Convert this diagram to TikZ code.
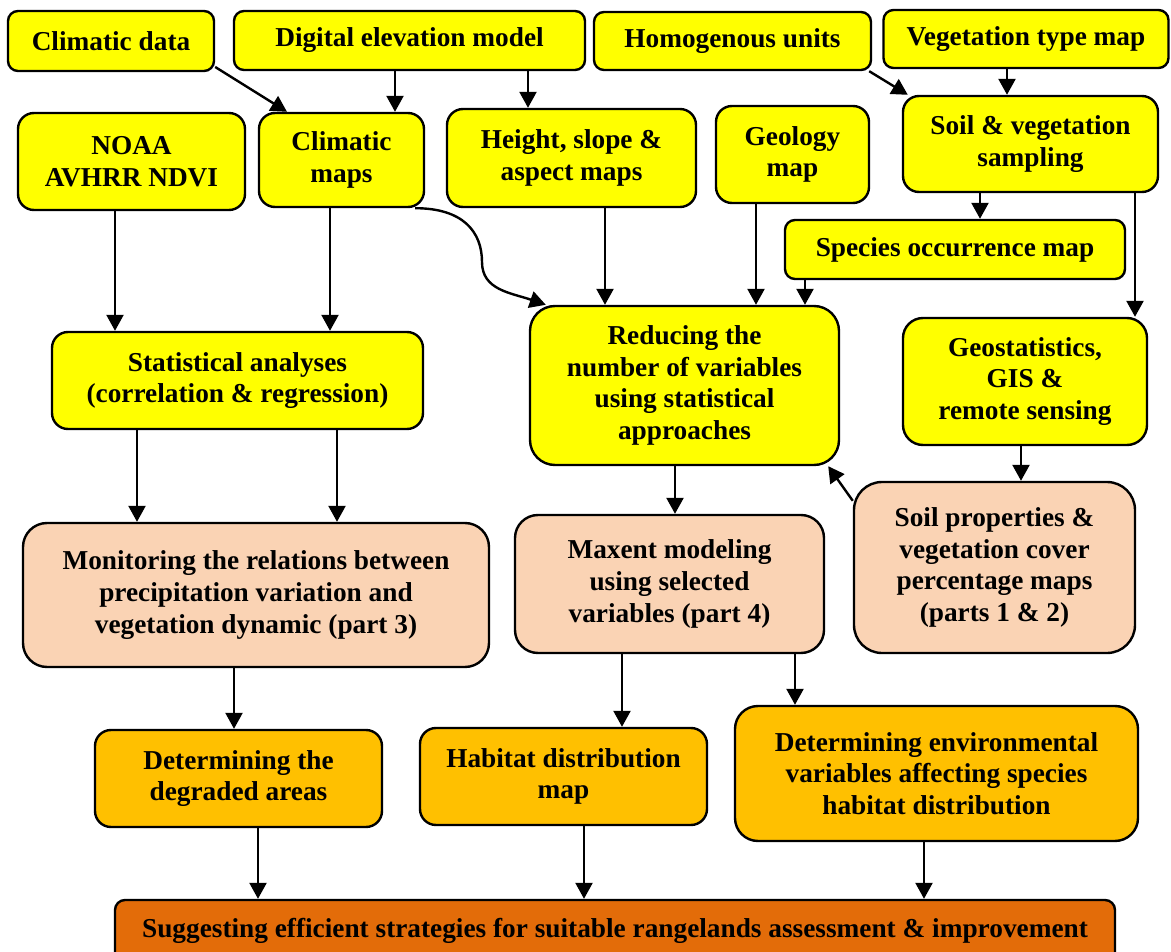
\documentclass[tikz,border=0pt]{standalone}
\usepackage{fontspec}
\setmainfont{Liberation Serif}
\usetikzlibrary{arrows.meta}
\definecolor{boxyellow}{HTML}{FFFF00}
\definecolor{boxpeach}{HTML}{FAD3B4}
\definecolor{boxorange}{HTML}{FFC000}
\definecolor{boxrust}{HTML}{E36C09}

\begin{document}
\begin{tikzpicture}[x=1pt, y=-1pt, line width=2.4pt,
  box/.style={draw, rounded corners=#1, align=center, inner sep=0pt,
    font=\fontsize{27.3}{31.6}\selectfont\bfseries},
  box/.default=16pt,
  arr/.style={-{Triangle[width=17pt,length=16pt]}}
]
  \path[use as bounding box, fill=white] (0,0) rectangle (1171,952);

  % inputs
  \node[box=10pt, fill=boxyellow, minimum width=206pt, minimum height=60pt] (climdata) at (111,41) {Climatic data};
  \node[box=10pt, fill=boxyellow, minimum width=351pt, minimum height=59pt] (dem) at (409.5,40.5) {Digital elevation model};
  \node[box=10pt, fill=boxyellow, minimum width=277pt, minimum height=58pt] (homog) at (732.5,41) {Homogenous units};
  \node[box=10pt, fill=boxyellow, minimum width=285pt, minimum height=58pt] (vegtype) at (1026,39) {Vegetation type map};

  \node[box, fill=boxyellow, minimum width=227pt, minimum height=97pt] (noaa) at (131.5,161.5) {NOAA\\AVHRR NDVI};
  \node[box, fill=boxyellow, minimum width=165pt, minimum height=94pt] (climmaps) at (341.5,160) {Climatic\\maps};
  \node[box, fill=boxyellow, minimum width=249pt, minimum height=98pt] (height) at (571.5,158) {Height, slope \&\\aspect maps};
  \node[box, fill=boxyellow, minimum width=153pt, minimum height=97pt] (geology) at (792.5,154.5) {Geology\\map};
  \node[box, fill=boxyellow, minimum width=255pt, minimum height=96pt] (sampling) at (1030.5,144) {Soil \& vegetation\\sampling};
  \node[box=10pt, fill=boxyellow, minimum width=340pt, minimum height=59pt] (species) at (955,249.5) {Species occurrence map};

  % analyses
  \node[box, fill=boxyellow, minimum width=371pt, minimum height=97pt] (stats) at (237.5,380.5) {Statistical analyses\\(correlation \& regression)};
  \node[box=25pt, fill=boxyellow, minimum width=309pt, minimum height=159pt] (reducing) at (684.5,385.5) {Reducing the\\number of variables\\using statistical\\approaches};
  \node[box=20pt, fill=boxyellow, minimum width=244pt, minimum height=127pt] (geostat) at (1025,381.5) {Geostatistics,\\GIS \&\\remote sensing};

  % parts
  \node[box=24pt, fill=boxpeach, minimum width=466pt, minimum height=144pt] (monitoring) at (256,595) {Monitoring the relations between\\precipitation variation and\\vegetation dynamic (part 3)};
  \node[box=23pt, fill=boxpeach, minimum width=309pt, minimum height=138pt] (maxent) at (669.5,584) {Maxent modeling\\using selected\\variables (part 4)};
  \node[box=28pt, fill=boxpeach, minimum width=281pt, minimum height=171pt] (soilprops) at (994.5,567.5) {Soil properties \&\\vegetation cover\\percentage maps\\(parts 1 \& 2)};

  % outputs
  \node[box, fill=boxorange, minimum width=287pt, minimum height=97pt] (degraded) at (238.5,778.5) {Determining the\\degraded areas};
  \node[box, fill=boxorange, minimum width=287pt, minimum height=97pt] (habitat) at (563.5,776.5) {Habitat distribution\\map};
  \node[box=23pt, fill=boxorange, minimum width=403pt, minimum height=135pt] (envvars) at (936.5,773.5) {Determining environmental\\variables affecting species\\habitat distribution};
  \node[box=10pt, fill=boxrust, minimum width=1000pt, minimum height=62pt] (suggest) at (615,931) {Suggesting efficient strategies for suitable rangelands assessment \& improvement};

  % connectors
  \draw[arr] (climdata.-14) -- ([xshift=-54.5pt]climmaps.north);
  \draw[arr] ([xshift=-14.5pt]dem.south) -- ([xshift=-14.5pt]dem.south |- climmaps.north);
  \draw[arr] ([xshift=118.5pt]dem.south) -- ([xshift=118.5pt]dem.south |- height.north);
  \draw[arr] ([xshift=-3pt]homog.south east) -- ([xshift=6pt]sampling.north west);
  \draw[arr] ([xshift=-19pt]vegtype.south) -- ([xshift=-19pt]vegtype.south |- sampling.north);
  \draw[arr] ([xshift=-50.5pt]sampling.south) -- ([xshift=-50.5pt]sampling.south |- species.north);
  \draw[arr] ([xshift=104.5pt]sampling.south) -- ([xshift=104.5pt]sampling.south |- geostat.north);
  \draw[arr] ([xshift=-150pt]species.south) -- ([xshift=-150pt]species.south |- reducing.north);
  \draw[arr] ([xshift=-36.5pt]geology.south) -- ([xshift=-36.5pt]geology.south |- reducing.north);
  \draw[arr] ([xshift=33.5pt]height.south) -- ([xshift=33.5pt]height.south |- reducing.north);
  \coordinate (bend) at (482,262);
  \draw[arr] ([xshift=-10pt]climmaps.south east) .. controls +(48,0) and +(0,-30) .. (bend)
    .. controls +(0,28) and +(-35,-12) .. ([xshift=17pt]reducing.north west);

  \draw[arr] ([xshift=-16.5pt]noaa.south) -- ([xshift=-16.5pt]noaa.south |- stats.north);
  \draw[arr] ([xshift=-11.5pt]climmaps.south) -- ([xshift=-11.5pt]climmaps.south |- stats.north);
  \draw[arr] ([xshift=-100.5pt]stats.south) -- ([xshift=-100.5pt]stats.south |- monitoring.north);
  \draw[arr] ([xshift=99.5pt]stats.south) -- ([xshift=99.5pt]stats.south |- monitoring.north);
  \draw[arr] ([xshift=-4pt]geostat.south) -- ([xshift=-4pt]geostat.south |- soilprops.north);
  \draw[arr] ([yshift=-20pt]soilprops.north west) -- ([xshift=-12pt]reducing.south east);
  \draw[arr] ([xshift=-9.5pt]reducing.south) -- ([xshift=-9.5pt]reducing.south |- maxent.north);

  \draw[arr] ([xshift=-22pt]monitoring.south) -- ([xshift=-22pt]monitoring.south |- degraded.north);
  \draw[arr] ([xshift=-47.5pt]maxent.south) -- ([xshift=-47.5pt]maxent.south |- habitat.north);
  \draw[arr] ([xshift=125.5pt]maxent.south) -- ([xshift=125.5pt]maxent.south |- envvars.north);
  \draw[arr] ([xshift=19.5pt]degraded.south) -- ([xshift=19.5pt]degraded.south |- suggest.north);
  \draw[arr] ([xshift=20.5pt]habitat.south) -- ([xshift=20.5pt]habitat.south |- suggest.north);
  \draw[arr] ([xshift=-12.5pt]envvars.south) -- ([xshift=-12.5pt]envvars.south |- suggest.north);
\end{tikzpicture}
\end{document}
